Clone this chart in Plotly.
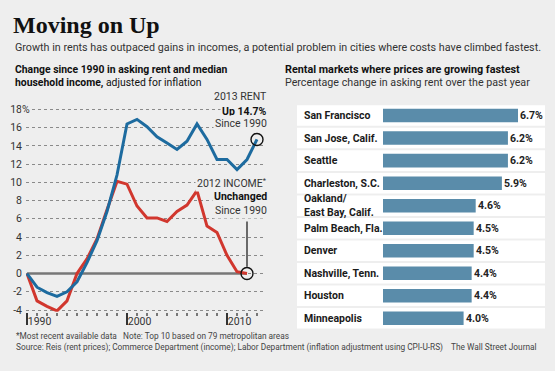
import plotly.graph_objects as go

# ---------------- data ----------------
rent_years = list(range(1990, 2014))
rent = [0.0, -1.5, -2.1, -2.5, -2.0, -0.9, 1.2, 3.6, 6.8, 10.8, 16.4, 16.9,
        16.1, 15.0, 14.3, 13.6, 14.5, 16.4, 14.7, 12.5, 12.5, 11.4, 12.5, 14.7]
income_years = list(range(1990, 2013))
income = [0.0, -3.0, -3.6, -4.1, -3.0, 0.0, 1.6, 3.8, 7.0, 10.1, 9.8, 7.4,
          6.1, 6.1, 5.7, 6.8, 7.5, 9.1, 5.2, 4.5, 2.0, 0.2, 0.0]
y_ticks = [-4, -2, 0, 2, 4, 6, 8, 10, 12, 14, 16, 18]
y_ticktext = ["-4", "-2", "0", "2", "4", "6", "8", "10", "12", "14", "16", "18"]
x_ticks = [1990, 2000, 2010]

cities = ["San Francisco", "San Jose, Calif.", "Seattle", "Charleston, S.C.",
          "Oakland/<br>East Bay, Calif.", "Palm Beach, Fla.", "Denver",
          "Nashville, Tenn.", "Houston", "Minneapolis"]
rent_growth = [6.7, 6.2, 6.2, 5.9, 4.6, 4.5, 4.5, 4.4, 4.4, 4.0]

# ---------------- styling ----------------
W, H = 555, 371
BG = "#eeeeee"
BLUE = "#1d6b9f"
RED = "#d1372e"
BAR = "#5a8caa"
FONT = "Roboto, sans-serif"
SERIF = "Liberation Serif, serif"


def px(x):
    return x / W


def py(y):
    return 1 - y / H


fig = go.Figure()

# zero line
fig.add_trace(go.Scatter(x=[rent_years[0], income_years[-1]], y=[0, 0], mode="lines",
                         line=dict(color="#777777", width=2.5), hoverinfo="skip",
                         xaxis="x", yaxis="y"))
fig.add_trace(go.Scatter(x=income_years, y=income, mode="lines",
                         line=dict(color=RED, width=3), xaxis="x", yaxis="y"))
fig.add_trace(go.Scatter(x=rent_years, y=rent, mode="lines",
                         line=dict(color=BLUE, width=3), xaxis="x", yaxis="y"))
fig.add_trace(go.Scatter(x=[rent_years[-1], income_years[-1]], y=[rent[-1], income[-1]],
                         mode="markers", cliponaxis=False,
                         marker=dict(symbol="circle-open", size=12, color="#111111",
                                     line=dict(width=1.4, color="#111111")),
                         xaxis="x", yaxis="y"))

# bars
fig.add_trace(go.Bar(y=cities, x=rent_growth, orientation="h", width=0.6,
                     marker=dict(color=BAR, line=dict(width=0)),
                     xaxis="x2", yaxis="y2"))

shapes = []
for i in range(len(cities)):
    shapes.append(dict(type="rect", xref="paper", yref="y2", x0=px(297), x1=px(545),
                       y0=i - 0.455, y1=i + 0.455, fillcolor="white",
                       line=dict(width=0), layer="below"))
# pointer line to income circle
shapes.append(dict(type="line", xref="x", yref="paper", x0=income_years[-1], x1=income_years[-1],
                   y0=py(224), y1=py(270), line=dict(color="#111111", width=1.2)))

ann = []


def text(x, y, s, size=10.5, anchor="left", color="#222222", bg=None, family=FONT, **kw):
    d = dict(x=px(x), y=py(y), xref="paper", yref="paper", text=s, showarrow=False,
             xanchor=anchor, yanchor="middle", font=dict(family=family, size=size, color=color))
    if bg:
        d["bgcolor"] = bg
        d["borderpad"] = 1
    d.update(kw)
    ann.append(d)


text(11, 24, "<b>Moving on Up</b>", size=24, color="#111111", family=SERIF)
text(13, 47, "Growth in rents has outpaced gains in incomes, a potential problem in cities where costs have climbed fastest.",
     size=10.75, color="#333333")
text(13, 70, "<b>Change since 1990 in asking rent and median</b>", size=10.4, color="#111111")
text(13, 83, "<b>household income,</b> adjusted for inflation", size=10.4, color="#111111")
text(283, 70, "<b>Rental markets where prices are growing fastest</b>", size=10.8, color="#111111")
text(283, 83, "Percentage change in asking rent over the past year", size=10.7, color="#333333")

text(269, 97, "2013 RENT", anchor="right", color="#333333", bg=BG)
text(269, 112, "<b>Up %.1f%%</b>" % rent[-1], anchor="right", color="#111111", bg=BG)
text(269, 125, "Since 1990", anchor="right", color="#333333", bg=BG)
text(269, 185, "2012 INCOME<sup>*</sup>", anchor="right", color="#333333", bg=BG)
text(269, 199, "<b>Unchanged</b>", anchor="right", color="#111111", bg=BG)
text(269, 213, "Since 1990", anchor="right", color="#333333", bg=BG)

text(14, 340, "*Most recent available data&nbsp;&nbsp;&nbsp;Note: Top 10 based on 79 metropolitan areas",
     size=8.3, color="#444444")
text(14, 352, "Source: Reis (rent prices); Commerce Department (income); Labor Department (inflation adjustment using CPI-U-RS)",
     size=8.3, color="#444444")
text(539, 352, "The Wall Street Journal", size=8.3, anchor="right", color="#444444")

# % sign for top tick
ann.append(dict(x=px(20.5), xref="paper", y=y_ticks[-1], yref="y", text="%", showarrow=False,
                xanchor="left", yanchor="middle", bgcolor=BG, borderpad=0,
                font=dict(family=FONT, size=10.5, color="#333333")))

# city labels
for c in cities:
    ann.append(dict(x=px(302), xref="paper", y=c, yref="y2", text="<b>%s</b>" % c, showarrow=False,
                    xanchor="left", yanchor="middle", align="left",
                    font=dict(family=FONT, size=10.5, color="#1a1a1a")))

# value labels
for c, v in zip(cities, rent_growth):
    ann.append(dict(x=v, xref="x2", y=c, yref="y2", text="<b>%.1f%%</b>" % v, showarrow=False,
                    xanchor="left", yanchor="middle", xshift=1, borderpad=0,
                    font=dict(family=FONT, size=10.5, color="#222222")))

ybot, ytop = 315.9, 105
y_lo = -(ybot - 277) / 9.27
y_hi = (277 - ytop) / 9.27

fig.update_layout(
    width=W, height=H, margin=dict(l=0, r=0, t=0, b=0),
    paper_bgcolor=BG, plot_bgcolor="rgba(0,0,0,0)", showlegend=False,
    font=dict(family=FONT, color="#333333"),
    xaxis=dict(domain=[px(26), px(265)], range=[1989.9, 2013.8], tickvals=x_ticks,
               ticks="outside", ticklen=12, tickwidth=1.5, tickcolor="#333333",
               ticklabelposition="outside right", tickfont=dict(size=10.5, color="#333333"),
               minor=dict(dtick=1, ticks="outside", ticklen=3, tickcolor="#777777", showgrid=False),
               showgrid=False, zeroline=False, showline=False, anchor="y", fixedrange=True),
    yaxis=dict(domain=[py(ybot), py(ytop)], range=[y_lo, y_hi], tickvals=y_ticks,
               ticktext=y_ticktext, ticks="", ticklabelstandoff=3,
               tickfont=dict(size=10.5, color="#333333"),
               showgrid=True, gridcolor="#8a8a8a", gridwidth=1, griddash="dot",
               zeroline=False, showline=False, anchor="x"),
    xaxis2=dict(domain=[px(383), px(545)], range=[0, 162 / 20.15], visible=False, anchor="y2"),
    yaxis2=dict(domain=[py(334), py(105)], range=[len(cities) - 0.5, -0.5],
                categoryorder="array", categoryarray=cities, visible=False, anchor="x2"),
    shapes=shapes, annotations=ann,
)

fig.write_html("out.html", config={"displayModeBar": False},
               post_script="document.body.style.margin='0';document.body.style.background='%s';" % BG)
